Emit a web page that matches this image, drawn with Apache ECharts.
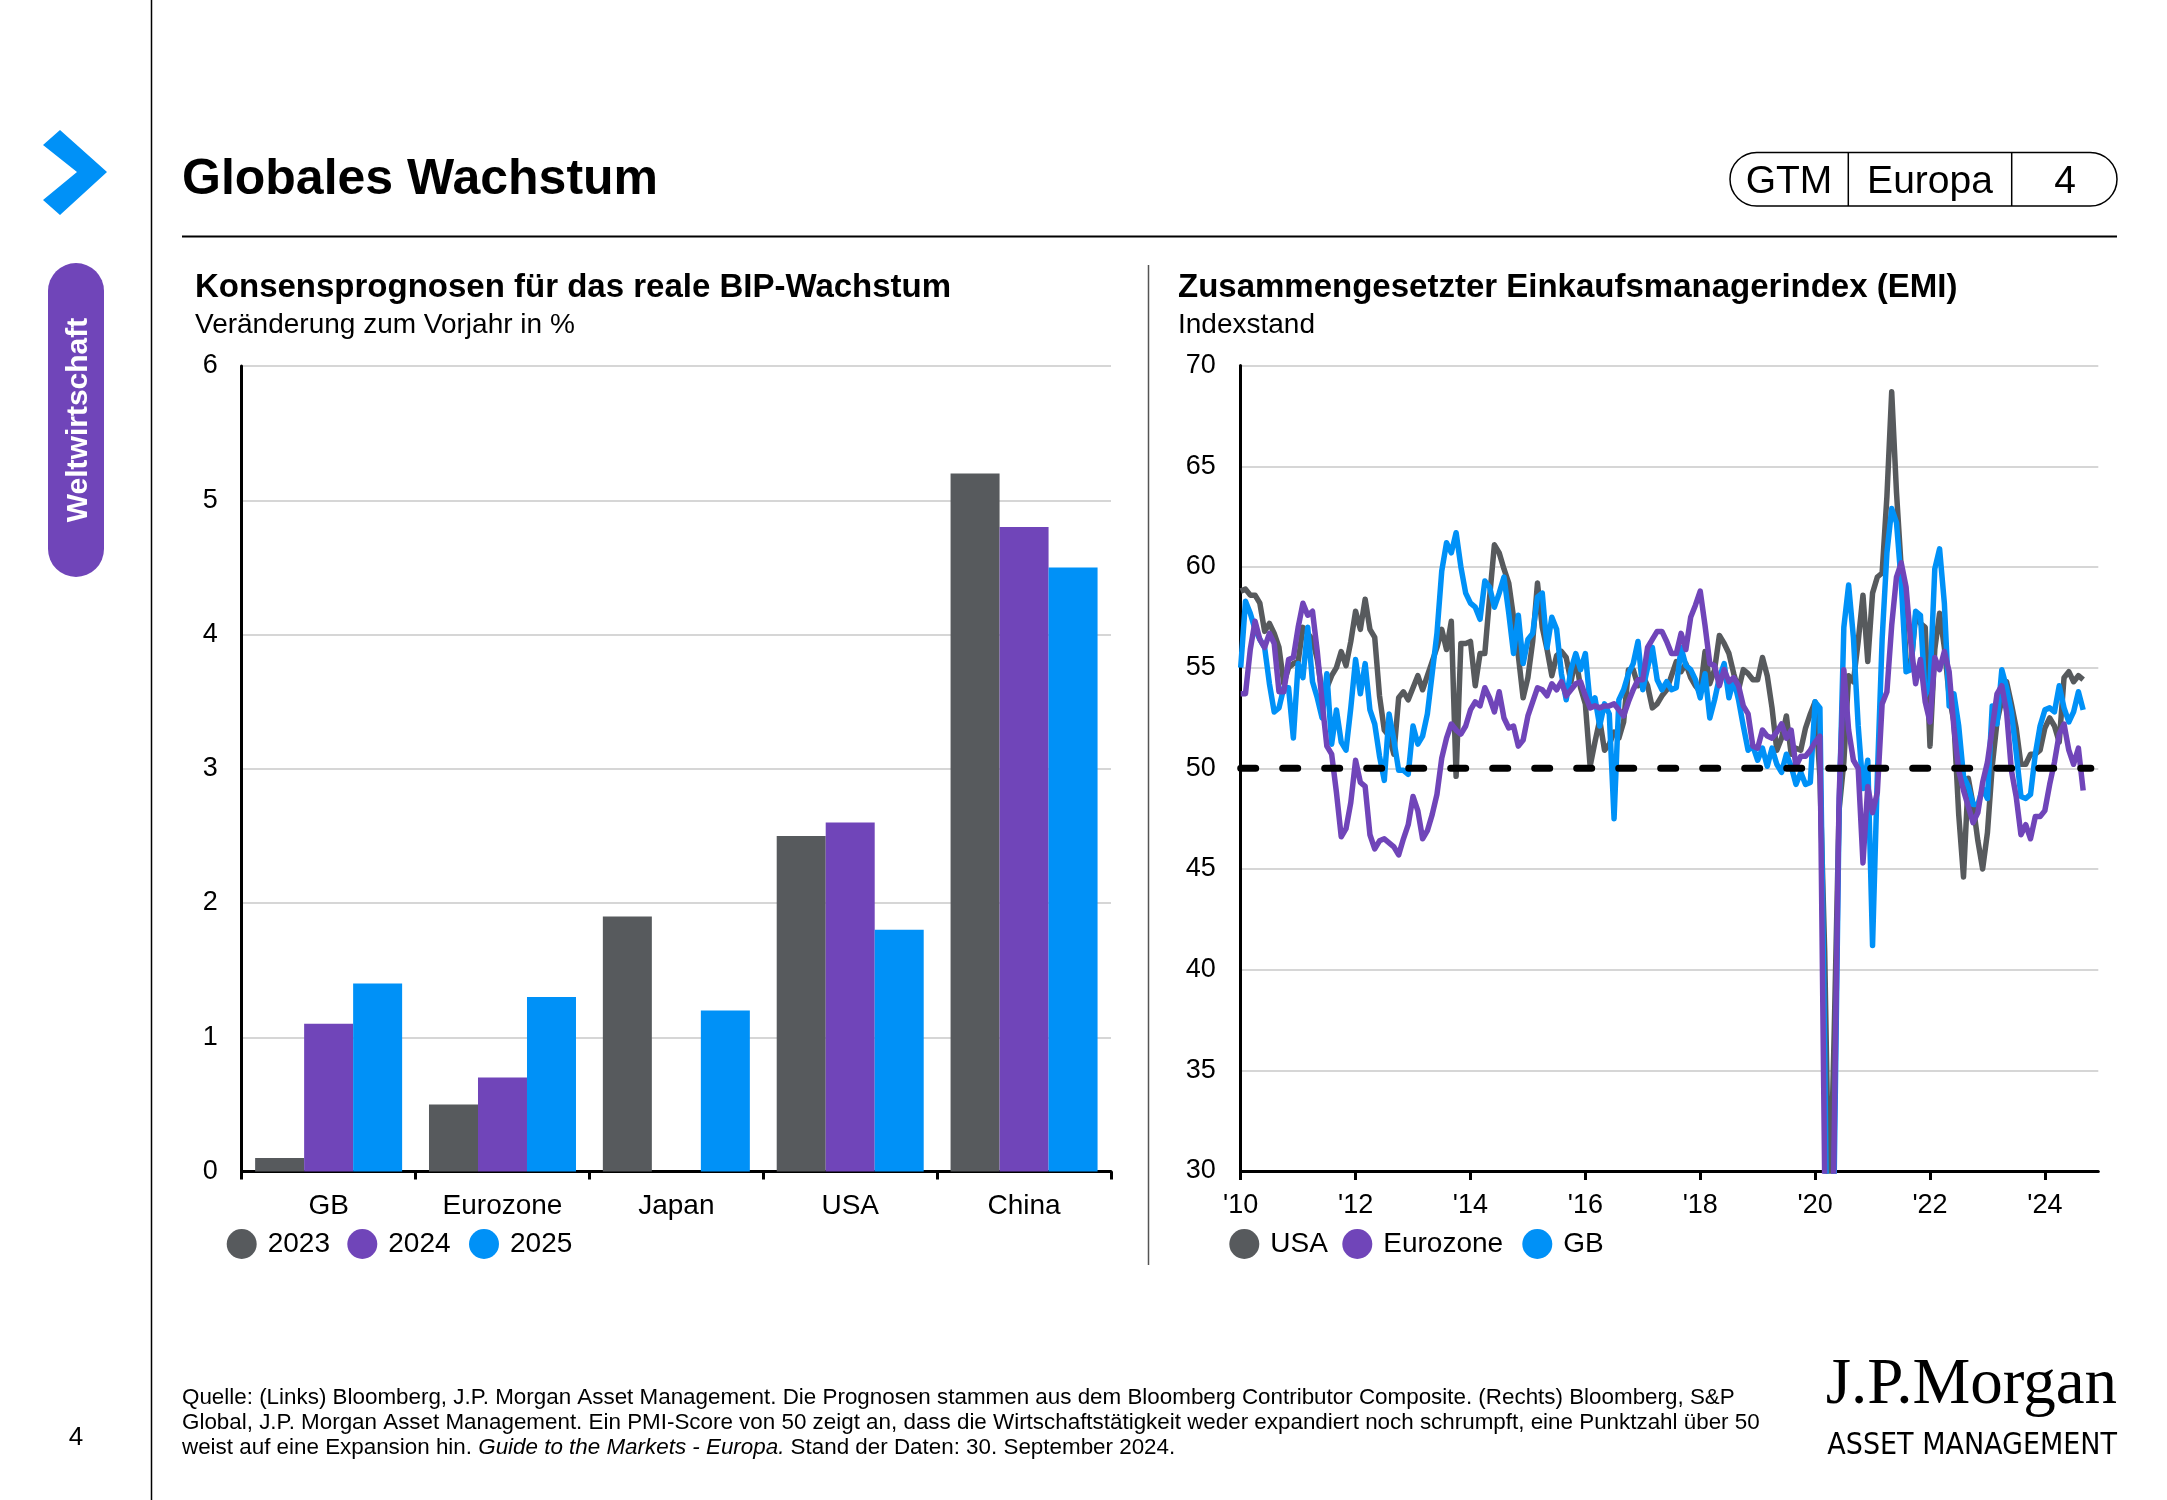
<!DOCTYPE html>
<html><head><meta charset="utf-8">
<script src="https://cdn.jsdelivr.net/npm/echarts@6/dist/echarts.min.js"></script>
<style>html,body{margin:0;padding:0;background:#fff}#c{width:2167px;height:1500px}</style>
</head><body><div id="c"></div>
<script>
// ---------- DATA ----------
const categories = ['GB', 'Eurozone', 'Japan', 'USA', 'China'];
const gdp2023 = [0.1, 0.5, 1.9, 2.5, 5.2];
const gdp2024 = [1.1, 0.7, 0.0, 2.6, 4.8];
const gdp2025 = [1.4, 1.3, 1.2, 1.8, 4.5];
const gdpTicks = [0, 1, 2, 3, 4, 5, 6];

const pmiStartYear = 2010; // monthly values from Jan 2010 to Sep 2024
const pmiUSA = [
  58.8, 58.9, 58.6, 58.6, 58.2, 56.8, 57.2, 56.7, 56.0, 54.2, 55.0, 55.2,
  55.3, 57.0, 56.7, 56.4, 55.4, 53.8, 54.0, 54.6, 55.0, 55.8, 55.1, 56.3,
  57.8, 56.9, 58.4, 56.9, 56.5, 53.6, 51.9, 51.6, 50.7, 53.5, 53.8, 53.4,
  54.0, 54.6, 53.9, 54.6, 55.3, 56.0, 56.9, 55.9, 57.3, 49.6, 56.2, 56.2,
  56.3, 54.1, 55.7, 55.7, 58.5, 61.1, 60.7, 59.9, 59.2, 57.5, 55.6, 53.5,
  54.5, 56.3, 59.2, 57.0, 55.9, 54.6, 55.6, 55.8, 55.5, 54.3, 55.5, 54.0,
  53.2, 50.1, 51.3, 52.4, 50.9, 51.2, 51.8, 51.5, 52.3, 54.9, 54.9, 54.1,
  54.6, 54.1, 53.0, 53.2, 53.6, 53.9, 54.6, 55.3, 54.8, 55.2, 54.5, 54.1,
  53.8, 55.8, 54.2, 54.9, 56.6, 56.2, 55.7, 54.7, 53.9, 54.9, 54.7, 54.4,
  54.4, 55.5, 54.6, 53.0, 50.9, 51.5, 52.6, 50.7, 51.0, 50.9, 52.0, 52.7,
  53.3, 49.6, 40.9, 27.0, 37.0, 47.9, 50.3, 54.6, 54.3, 56.3, 58.6, 55.3,
  58.7, 59.5, 59.7, 63.5, 68.7, 63.7, 59.9, 55.4, 55.0, 57.6, 57.2, 57.0,
  51.1, 55.9, 57.7, 56.0, 53.6, 52.3, 47.7, 44.6, 49.5, 48.2, 46.4, 45.0,
  46.8, 50.1, 52.3, 53.4, 54.3, 53.2, 52.0, 50.2, 50.2, 50.7, 50.7, 50.9,
  52.0, 52.5, 52.1, 51.3, 54.5, 54.8, 54.3, 54.6, 54.4
];
const pmiEurozone = [
  53.7, 53.7, 55.9, 57.3, 56.4, 56.0, 56.7, 56.2, 53.8, 53.8, 55.4, 55.5,
  57.0, 58.2, 57.6, 57.8, 55.8, 53.3, 51.1, 50.7, 48.8, 46.6, 47.0, 48.3,
  50.4, 49.3, 49.1, 46.7, 46.0, 46.4, 46.5, 46.3, 46.1, 45.7, 46.5, 47.2,
  48.6, 47.9, 46.5, 46.9, 47.7, 48.7, 50.5, 51.5, 52.2, 51.9, 51.7, 52.1,
  52.9, 53.3, 53.1, 54.0, 53.5, 52.8, 53.8, 52.5, 52.0, 52.1, 51.1, 51.4,
  52.6, 53.3, 54.0, 53.9, 53.6, 54.2, 53.9, 54.3, 53.6, 53.9, 54.2, 54.3,
  53.6, 53.0, 53.1, 53.0, 53.1, 53.1, 53.2, 52.9, 52.6, 53.3, 53.9, 54.4,
  54.4, 56.0, 56.4, 56.8, 56.8, 56.3, 55.7, 55.7, 56.7, 55.9, 57.5, 58.1,
  58.8, 57.1, 55.2, 55.1, 54.1, 54.9, 54.3, 54.5, 54.1, 53.1, 52.7, 51.1,
  51.0, 51.9, 51.6, 51.5, 51.8, 52.2, 51.5, 51.9, 50.1, 50.6, 50.6, 50.9,
  51.3, 51.6, 29.7, 13.6, 31.9, 48.5, 54.9, 51.9, 50.4, 50.0, 45.3, 49.1,
  47.8, 48.8, 53.2, 53.8, 57.1, 59.5, 60.2, 59.0, 56.2, 54.2, 55.4, 53.3,
  52.3, 55.5, 54.9, 55.8, 54.8, 52.0, 49.9, 48.9, 48.1, 47.3, 47.8, 49.3,
  50.3, 52.0, 53.7, 54.1, 52.8, 49.9, 48.6, 46.7, 47.2, 46.5, 47.6, 47.6,
  47.9, 49.2, 50.3, 51.7, 52.2, 50.9, 50.2, 51.0, 48.9
];
const pmiGB = [
  55.0, 58.3, 57.7, 56.9, 56.4, 56.0, 54.2, 52.8, 53.0, 54.0, 54.0, 51.5,
  55.2, 54.5, 57.0, 54.3, 53.5, 52.5, 54.7, 51.2, 52.9, 51.3, 50.9, 53.0,
  55.4, 53.7, 55.2, 52.9, 52.2, 50.6, 49.4, 52.7, 51.4, 49.9, 49.9, 49.7,
  52.1, 51.2, 51.6, 52.7, 54.7, 56.7, 59.8, 61.2, 60.7, 61.7, 60.0, 58.7,
  58.2, 58.0, 57.4, 59.3, 59.0, 58.0, 58.7, 59.5, 57.7, 55.7, 57.6, 55.2,
  56.4, 56.7, 58.5, 58.7, 56.0, 57.5, 56.9, 54.7, 53.4, 54.9, 55.7, 54.9,
  55.7, 53.2, 53.5, 52.1, 53.2, 52.7, 47.5, 53.4, 53.9, 54.7, 55.2, 56.3,
  53.9, 55.0, 56.0, 54.4, 53.9, 54.3, 53.9, 54.0, 56.0, 55.1, 54.9, 54.4,
  53.5, 54.7, 52.5, 53.4, 54.5, 55.2, 53.5, 54.4, 53.4, 52.1, 50.9, 51.1,
  50.4, 51.0, 50.1, 51.0, 50.2, 49.8, 50.7, 50.1, 49.2, 49.8, 49.2, 49.3,
  53.3, 53.0, 36.0, 13.8, 30.0, 47.7, 57.0, 59.1, 56.5, 52.1, 49.0, 50.4,
  41.2, 49.6, 56.4, 60.7, 62.9, 62.2, 59.2, 54.8, 54.9, 57.8, 57.6, 53.6,
  54.2, 59.9, 60.9, 58.2, 53.1, 53.7, 52.1, 49.6, 49.1, 48.2, 48.2, 49.0,
  48.5, 53.1, 52.2, 54.9, 54.0, 52.8, 50.8, 48.6, 48.5, 48.7, 50.7, 52.1,
  52.9, 53.0, 52.8, 54.1, 53.0, 52.3, 52.8, 53.8, 52.9
];
const pmiThreshold = 50;
const pmiTickYears = [2010, 2012, 2014, 2016, 2018, 2020, 2022, 2024];
const pmiTickLabels = ["'10", "'12", "'14", "'16", "'18", "'20", "'22", "'24"];

// ---------- STYLE ----------
const GREY = '#575a5d', PURPLE = '#7045b9', BLUE = '#0091f7';
const FF = "'Liberation Sans', Arial, Helvetica, sans-serif";

const toPairs = arr => arr.map((v, i) => [pmiStartYear + i / 12, v]);

const chart = echarts.init(document.getElementById('c'), null, {renderer: 'canvas'});

function txt(x, y, text, font, extra) {
  return Object.assign({type: 'text', x: x, y: y, silent: true,
    style: Object.assign({text: text, font: font, fill: '#000', textAlign: 'left', textVerticalAlign: 'middle'}, (extra && extra.style) || {})},
    (extra && extra.el) || {});
}

const legendBase = {orient: 'horizontal', icon: 'circle', itemWidth: 30, itemHeight: 30, padding: 0, selectedMode: false,
  textStyle: {fontSize: 28, fontFamily: FF, color: '#000', padding: [0, 0, 0, 6]}};

const option = {
  backgroundColor: '#fff',
  animation: false,
  grid: [
    {left: 241.7, top: 366, width: 869.3, height: 805.5, outerBoundsMode: 'none', containLabel: false},
    {left: 1240.7, top: 365.6, width: 857.6, height: 805.4, outerBoundsMode: 'none', containLabel: false}
  ],
  xAxis: [
    {type: 'category', gridIndex: 0, data: categories,
      axisLine: {show: true, lineStyle: {color: '#000', width: 3}},
      axisTick: {show: true, alignWithLabel: false, interval: 0, length: 8, lineStyle: {color: '#000', width: 3}},
      axisLabel: {color: '#000', fontSize: 28, fontFamily: FF, margin: 21, interval: 0},
      splitLine: {show: false}},
    {type: 'value', gridIndex: 1, min: 2010, max: 2024.93,
      axisLine: {show: true, lineStyle: {color: '#000', width: 3}},
      axisTick: {show: true, length: 9, lineStyle: {color: '#000', width: 3}, customValues: pmiTickYears},
      axisLabel: {color: '#000', fontSize: 27, fontFamily: FF, margin: 21, customValues: pmiTickYears,
        formatter: v => { const i = pmiTickYears.indexOf(Math.round(v)); return i >= 0 ? pmiTickLabels[i] : ''; }},
      splitLine: {show: false}}
  ],
  yAxis: [
    {type: 'value', gridIndex: 0, min: gdpTicks[0], max: gdpTicks[gdpTicks.length - 1], interval: 1,
      axisLine: {show: true, lineStyle: {color: '#000', width: 3}},
      axisTick: {show: false},
      axisLabel: {color: '#000', fontSize: 27, fontFamily: FF, margin: 24},
      splitLine: {show: true, lineStyle: {color: '#c8c8c8', width: 1.5}}},
    {type: 'value', gridIndex: 1, min: 30, max: 70, interval: 5,
      axisLine: {show: true, lineStyle: {color: '#000', width: 3}},
      axisTick: {show: false},
      axisLabel: {color: '#000', fontSize: 27, fontFamily: FF, margin: 25},
      splitLine: {show: true, lineStyle: {color: '#c8c8c8', width: 1.5}}}
  ],
  legend: [
    Object.assign({}, legendBase, {data: ['2023'], left: 226.7, top: 1229}),
    Object.assign({}, legendBase, {data: ['2024'], left: 347.3, top: 1229}),
    Object.assign({}, legendBase, {data: ['2025'], left: 469, top: 1229}),
    Object.assign({}, legendBase, {data: ['USA'], left: 1229.3, top: 1229}),
    Object.assign({}, legendBase, {data: ['Eurozone'], left: 1342.3, top: 1229}),
    Object.assign({}, legendBase, {data: ['GB'], left: 1522.3, top: 1229})
  ],
  series: [
    {name: '2023', type: 'bar', xAxisIndex: 0, yAxisIndex: 0, data: gdp2023, barWidth: 49, barGap: '0%', itemStyle: {color: GREY}},
    {name: '2024', type: 'bar', xAxisIndex: 0, yAxisIndex: 0, data: gdp2024, barWidth: 49, barGap: '0%', itemStyle: {color: PURPLE}},
    {name: '2025', type: 'bar', xAxisIndex: 0, yAxisIndex: 0, data: gdp2025, barWidth: 49, barGap: '0%', itemStyle: {color: BLUE}},
    {name: 'USA', type: 'line', xAxisIndex: 1, yAxisIndex: 1, data: toPairs(pmiUSA), showSymbol: false, symbol: 'none', clip: true,
      itemStyle: {color: GREY}, lineStyle: {color: GREY, width: 5.5, join: 'round'}, z: 2},
    {name: 'GB', type: 'line', xAxisIndex: 1, yAxisIndex: 1, data: toPairs(pmiGB), showSymbol: false, symbol: 'none', clip: true,
      itemStyle: {color: BLUE}, lineStyle: {color: BLUE, width: 5.5, join: 'round'}, z: 3},
    {name: 'Eurozone', type: 'line', xAxisIndex: 1, yAxisIndex: 1, data: toPairs(pmiEurozone), showSymbol: false, symbol: 'none', clip: true,
      itemStyle: {color: PURPLE}, lineStyle: {color: PURPLE, width: 5.5, join: 'round'}, z: 4},
    {name: 'Schwelle', type: 'line', xAxisIndex: 1, yAxisIndex: 1, data: [[2010, pmiThreshold], [2024.8, pmiThreshold]],
      showSymbol: false, symbol: 'none', silent: true, z: 6,
      lineStyle: {color: '#000', width: 7, type: [15, 27], cap: 'round'}}
  ],
  graphic: {elements: [
    // sidebar
    {type: 'line', silent: true, shape: {x1: 151.5, y1: 0, x2: 151.5, y2: 1500}, style: {stroke: '#000', lineWidth: 1.5}},
    {type: 'polygon', silent: true, shape: {points: [[43, 145], [60, 130], [107, 172], [60, 215], [43, 200], [77, 172]]}, style: {fill: BLUE}},
    {type: 'rect', silent: true, shape: {x: 48, y: 263, width: 56, height: 314, r: 28}, style: {fill: PURPLE}},
    txt(79, 420, 'Weltwirtschaft', 'bold 30px ' + FF, {style: {fill: '#fff', textAlign: 'center'}, el: {rotation: Math.PI / 2}}),
    txt(76, 1438, '4', '26px ' + FF, {style: {textAlign: 'center'}}),
    // header
    txt(182, 180, 'Globales Wachstum', 'bold 50px ' + FF),
    {type: 'line', silent: true, shape: {x1: 182, y1: 236.5, x2: 2117, y2: 236.5}, style: {stroke: '#000', lineWidth: 2}},
    {type: 'rect', silent: true, shape: {x: 1730, y: 152.5, width: 387, height: 53.5, r: 26.75}, style: {fill: 'none', stroke: '#000', lineWidth: 1.5}},
    {type: 'line', silent: true, shape: {x1: 1848.3, y1: 152.5, x2: 1848.3, y2: 206}, style: {stroke: '#000', lineWidth: 1.5}},
    {type: 'line', silent: true, shape: {x1: 2011.7, y1: 152.5, x2: 2011.7, y2: 206}, style: {stroke: '#000', lineWidth: 1.5}},
    txt(1789, 182, 'GTM', '39px ' + FF, {style: {textAlign: 'center'}}),
    txt(1930, 182, 'Europa', '39px ' + FF, {style: {textAlign: 'center'}}),
    txt(2065, 182, '4', '39px ' + FF, {style: {textAlign: 'center'}}),
    // panel titles
    txt(195, 288, 'Konsensprognosen für das reale BIP-Wachstum', 'bold 33px ' + FF),
    txt(195, 325, 'Veränderung zum Vorjahr in %', '28px ' + FF),
    txt(1178, 288, 'Zusammengesetzter Einkaufsmanagerindex (EMI)', 'bold 33px ' + FF),
    txt(1178, 325, 'Indexstand', '28px ' + FF),
    {type: 'line', silent: true, shape: {x1: 1148.5, y1: 265, x2: 1148.5, y2: 1265}, style: {stroke: '#555', lineWidth: 1.5}},
    // footnote
    txt(182, 1398, 'Quelle: (Links) Bloomberg, J.P. Morgan Asset Management. Die Prognosen stammen aus dem Bloomberg Contributor Composite. (Rechts) Bloomberg, S&P', '22.4px ' + FF),
    txt(182, 1423, 'Global, J.P. Morgan Asset Management. Ein PMI-Score von 50 zeigt an, dass die Wirtschaftstätigkeit weder expandiert noch schrumpft, eine Punktzahl über 50', '22.4px ' + FF),
    {type: 'text', x: 182, y: 1448, silent: true, style: {
      text: 'weist auf eine Expansion hin. {i|Guide to the Markets - Europa.} Stand der Daten: 30. September 2024.',
      font: '22.4px ' + FF, fill: '#000', textAlign: 'left', textVerticalAlign: 'middle',
      rich: {i: {fontStyle: 'italic', fontSize: 22.4, fontFamily: FF, fill: '#000'}}}},
    // logo
    txt(2117, 1386, 'J.P.Morgan', '65px "Liberation Serif", "DejaVu Serif", serif', {style: {textAlign: 'right'}}),
    txt(2117, 1446, 'ASSET MANAGEMENT', '30px "Liberation Sans Narrow", "DejaVu Sans Condensed", ' + FF, {style: {textAlign: 'right'}})
  ]}
};
chart.setOption(option);
</script>
</body></html>
